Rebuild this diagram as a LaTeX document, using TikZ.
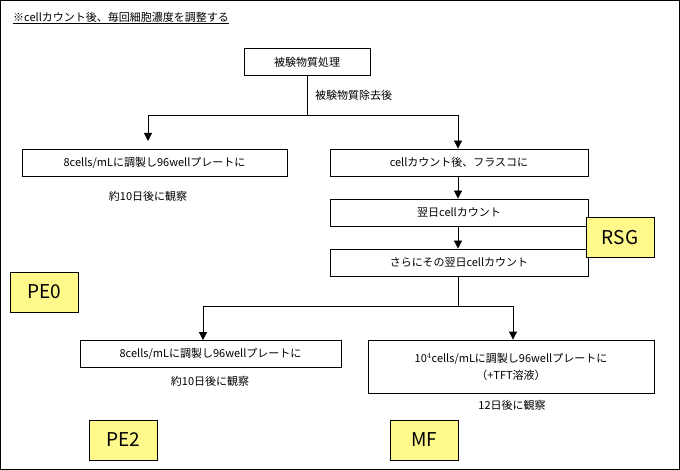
\documentclass[tikz,border=0pt]{standalone}
\usepackage{fontspec}
\setmainfont{Noto Sans CJK JP}
\usetikzlibrary{arrows.meta}
\begin{document}
\begin{tikzpicture}[x=1pt,y=-1pt,
 box/.style={draw,thick,minimum height=27pt,font=\fontsize{11}{13}\selectfont,inner sep=0pt},
 tag/.style={draw,fill=yellow!45,minimum width=68pt,minimum height=40pt,font=\fontsize{19}{21}\selectfont,inner sep=0pt},
 lbl/.style={font=\fontsize{11}{13}\selectfont,inner sep=1pt},
 ar/.style={thick,-{Triangle[length=8pt,width=8pt]}},
 ln/.style={thick}]
\useasboundingbox (0,0) rectangle (680,470);
\draw (0.5,0.5) rectangle (679.5,469.5);
\node[lbl,anchor=west] (note) at (12,18) {\underline{※cellカウント後、毎回細胞濃度を調整する}};
\node[box,minimum width=126pt] (a) at (307,62) {被験物質処理};
\node[lbl,anchor=west] (rm) at (314,95) {被験物質除去後};
\coordinate (s1) at (307,115);
\coordinate (l1) at (148,115);
\coordinate (r1) at (458,115);
\node[box,minimum width=265pt] (b) at (154.5,162.5) {8cells/mLに調製し96wellプレートに};
\node[lbl] (o1) at (148,196) {約10日後に観察};
\node[box,minimum width=258pt] (c) at (459,162.5) {cellカウント後、フラスコに};
\node[box,minimum width=258pt] (d) at (459,212.5) {翌日cellカウント};
\node[box,minimum width=258pt] (e) at (459,262.5) {さらにその翌日cellカウント};
\node[tag] (rsg) at (620,237.5) {RSG};
\node[tag] (pe0) at (44,292) {PE0};
\coordinate (s2) at (458,306);
\coordinate (l2) at (203,306);
\coordinate (r2) at (513,306);
\node[box,minimum width=261pt] (f) at (210.5,354) {8cells/mLに調製し96wellプレートに};
\node[lbl] (o2) at (210,381) {約10日後に観察};
\node[box,minimum width=286pt,minimum height=53pt,align=center,font=\fontsize{11}{17}\selectfont] (g) at (511,366.5) {10$^4$cells/mLに調製し96wellプレートに\\（+TFT溶液）};
\node[lbl] (o3) at (512,405) {12日後に観察};
\node[tag] (pe2) at (123,440) {PE2};
\node[tag] (mf) at (424,440) {MF};
\draw[ln] (a.south) -- (s1);
\draw[ln] (l1) -- (r1);
\draw[ar] (l1) -- (148,141);
\draw[ar] (r1) -- (c.north-|r1);
\draw[ar] (c.south-|r1) -- (d.north-|r1);
\draw[ar] (d.south-|r1) -- (e.north-|r1);
\draw[ln] (e.south-|r1) -- (s2);
\draw[ln] (l2) -- (r2);
\draw[ar] (l2) -- (f.north-|l2);
\draw[ar] (r2) -- (g.north-|r2);
\end{tikzpicture}
\end{document}
